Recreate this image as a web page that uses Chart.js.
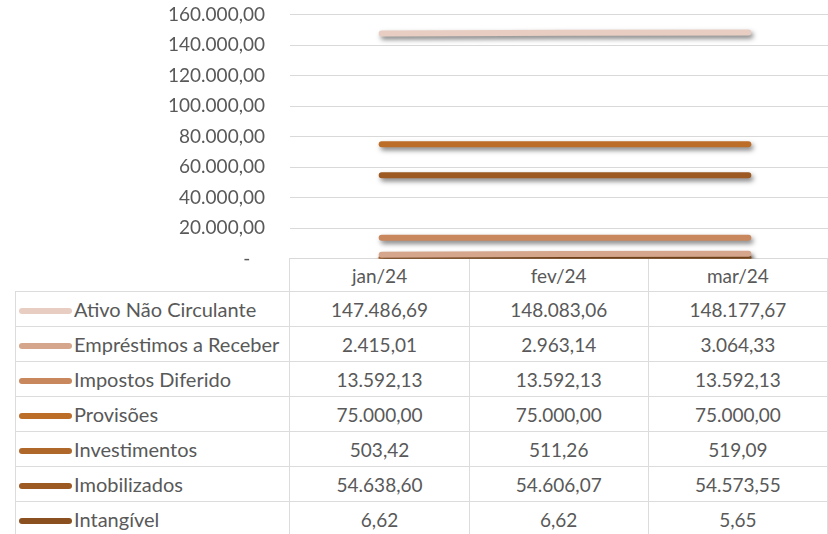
<!DOCTYPE html>
<html>
<head>
<meta charset="utf-8">
<script src="https://cdn.jsdelivr.net/npm/chart.js@4.4.1/dist/chart.umd.min.js"></script>
<style>
  html, body { margin: 0; padding: 0; width: 828px; height: 534px; overflow: hidden; background: #fff; }
  #wrap { position: absolute; left: 0; top: 0; width: 840px; height: 270px; z-index: 2; pointer-events: none; }
  #tbl { position: absolute; left: 15px; top: 258px; border-collapse: collapse; table-layout: fixed; z-index: 1;
         font-family: Lato, "Open Sans", sans-serif; font-size: 19px; color: #595959; }
  #tbl td { border: 1.5px solid #dcdcdc; padding: 0; height: 34px; text-align: center; white-space: nowrap; overflow: hidden; }
  #tbl tr.hdr td { height: 32px; }
  #tbl tr.hdr td.blank { border: none; }
  #tbl td.lbl { text-align: left; padding-left: 3px; font-size: 20px; }
  .key { display: inline-block; width: 53px; height: 6px; border-radius: 3px; vertical-align: middle; margin-right: 2px; position: relative; top: -1px; }
</style>
</head>
<body>
<div id="wrap"><canvas id="c"></canvas></div>
<table id="tbl"></table>
<script>
const categories = ['jan/24', 'fev/24', 'mar/24'];
const seriesNames = ['Ativo Não Circulante', 'Empréstimos a Receber', 'Impostos Diferido', 'Provisões', 'Investimentos', 'Imobilizados', 'Intangível'];
const ativoNaoCirculante = [147486.69, 148083.06, 148177.67];
const emprestimosReceber = [2415.01, 2963.14, 3064.33];
const impostosDiferido = [13592.13, 13592.13, 13592.13];
const provisoes = [75000.00, 75000.00, 75000.00];
const investimentos = [503.42, 511.26, 519.09];
const imobilizados = [54638.60, 54606.07, 54573.55];
const intangivel = [6.62, 6.62, 5.65];
const seriesColors = ['#E8CEC2', '#D5A68B', '#C8875C', '#BC6D28', '#B0682A', '#9C5A22', '#8B5020'];
const yTicks = [0, 20000, 40000, 60000, 80000, 100000, 120000, 140000, 160000];

const seriesValues = [ativoNaoCirculante, emprestimosReceber, impostosDiferido, provisoes, investimentos, imobilizados, intangivel];

function fmt(v) {
  const neg = v < 0; v = Math.abs(v);
  const parts = v.toFixed(2).split('.');
  let intp = parts[0].replace(/\B(?=(\d{3})+(?!\d))/g, '.');
  return (neg ? '-' : '') + intp + ',' + parts[1];
}

const shadowPlugin = {
  id: 'shadow',
  beforeDatasetsDraw(chart) {
    const ctx = chart.ctx;
    ctx.save();
    ctx.shadowColor = 'rgba(0,0,0,0.5)';
    ctx.shadowBlur = 5;
    ctx.shadowOffsetX = 2;
    ctx.shadowOffsetY = 3;
  },
  afterDatasetsDraw(chart) {
    chart.ctx.restore();
  }
};

new Chart(document.getElementById('c'), {
  type: 'line',
  data: {
    labels: categories,
    datasets: seriesNames.map((n, i) => ({
      label: n,
      data: seriesValues[i],
      borderColor: seriesColors[i],
      backgroundColor: seriesColors[i],
      borderWidth: 6,
      borderCapStyle: 'round',
      borderJoinStyle: 'round',
      pointRadius: 0,
      pointHoverRadius: 0,
      tension: 0,
      clip: { left: false, right: false, top: false, bottom: 0 }
    }))
  },
  options: {
    responsive: true,
    maintainAspectRatio: false,
    animation: false,
    events: [],
    layout: { padding: { top: 14.5, bottom: 11.5, left: 0, right: 0 } },
    plugins: { legend: { display: false }, tooltip: { enabled: false } },
    scales: {
      x: {
        type: 'category',
        offset: true,
        display: false,
        grid: { display: false }
      },
      y: {
        min: 0,
        max: 160000,
        afterBuildTicks(scale) { scale.ticks = yTicks.map(v => ({ value: v })); },
        afterFit(scale) { scale.width = 290; scale.paddingTop = 0; scale.paddingBottom = 0; },
        border: { display: false },
        grid: { color: '#d9d9d9', lineWidth: 1, drawTicks: false },
        ticks: {
          padding: 25,
          color: '#595959',
          font: { family: 'Lato', size: 19 },
          callback: v => v === 0 ? '-   ' : fmt(v)
        }
      }
    }
  },
  plugins: [shadowPlugin]
});

// data table
const tbl = document.getElementById('tbl');
const colW = [275, 183.5, 183.5, 183.5];
const cg = document.createElement('colgroup');
colW.forEach(w => { const c = document.createElement('col'); c.style.width = w + 'px'; cg.appendChild(c); });
tbl.appendChild(cg);
const hdr = document.createElement('tr'); hdr.className = 'hdr';
const blank = document.createElement('td'); blank.className = 'blank'; hdr.appendChild(blank);
categories.forEach(c => { const td = document.createElement('td'); td.textContent = c; hdr.appendChild(td); });
tbl.appendChild(hdr);
seriesNames.forEach((n, i) => {
  const tr = document.createElement('tr');
  const td = document.createElement('td'); td.className = 'lbl';
  const key = document.createElement('span'); key.className = 'key'; key.style.background = seriesColors[i];
  td.appendChild(key); td.appendChild(document.createTextNode(n));
  tr.appendChild(td);
  seriesValues[i].forEach(v => { const c = document.createElement('td'); c.textContent = fmt(v); tr.appendChild(c); });
  tbl.appendChild(tr);
});
</script>
</body>
</html>
